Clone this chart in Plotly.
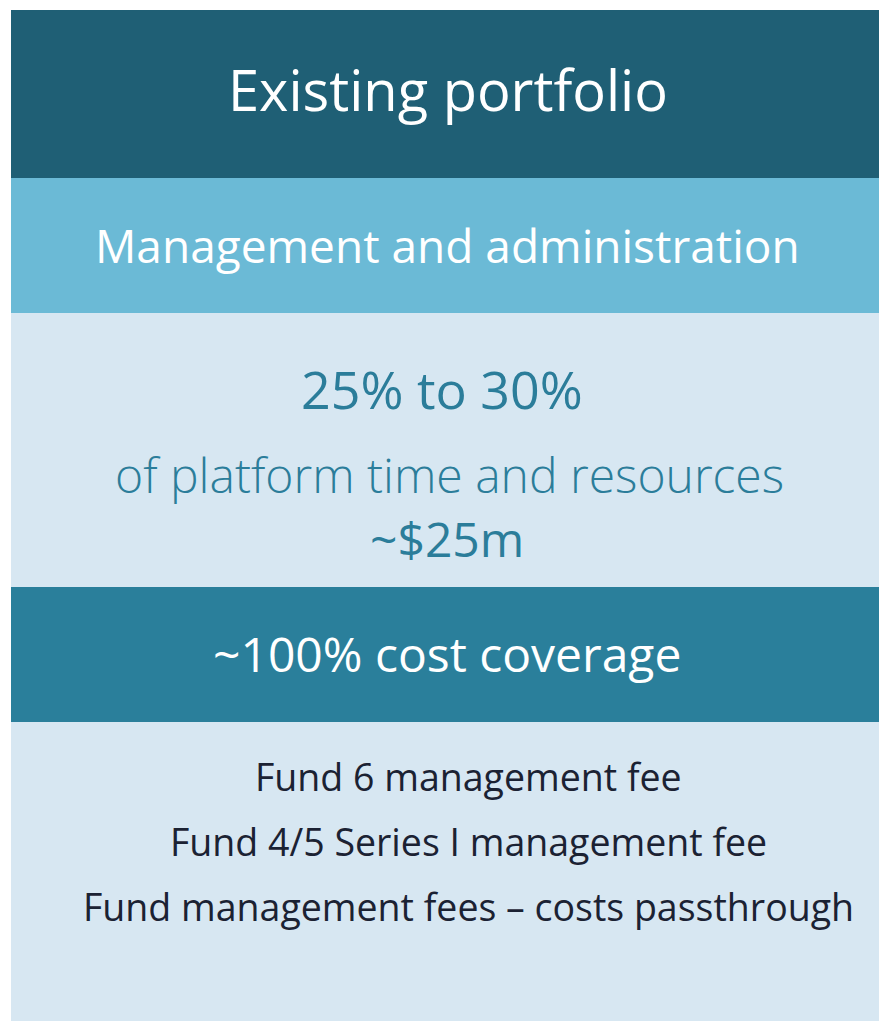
import plotly.graph_objects as go

W, H = 879, 1021

# Bands: (label, top, bottom, fill colour)
band_names = ["header", "subheader", "stats", "coverage", "sources"]
band_tops = [10, 178, 313, 587, 722]
band_bottoms = [178, 313, 587, 722, 1021]
band_colors = ["#1F5F75", "#6BBAD6", "#D7E7F2", "#2A7F9B", "#D7E7F2"]

# Text items
texts = ["Existing portfolio", "Management and administration", "25% to 30%",
         "of platform time and resources", "~$25m", "~100% cost coverage",
         "Fund 6 management fee", "Fund 4/5 Series I management fee",
         "Fund management fees \u2013 costs passthrough"]
text_x = [448, 447, 442, 449, 447, 447, 468, 468, 468]
text_y = [89, 245, 388, 474, 538, 653, 776, 841, 906]
text_size = [56, 46, 52, 48, 48, 48, 37.5, 37.5, 37.5]
text_color = ["#FFFFFF", "#FFFFFF", "#2B7D9A", "#2B7D9A", "#2B7D9A", "#FFFFFF",
              "#1B2233", "#1B2233", "#1B2233"]
text_weight = [400, 400, 400, 300, 400, 400, 400, 400, 400]

fig = go.Figure()
fig.add_trace(go.Scatter(x=[0, W], y=[0, H], mode="markers",
                         marker=dict(opacity=0), hoverinfo="skip", showlegend=False))

for t, b, c in zip(band_tops, band_bottoms, band_colors):
    fig.add_shape(type="rect", xref="x", yref="y", x0=11, x1=W, y0=t, y1=b,
                  fillcolor=c, line=dict(width=0), layer="below")

for s, x, y, sz, col, wt in zip(texts, text_x, text_y, text_size, text_color, text_weight):
    fig.add_annotation(x=x, y=y, xref="x", yref="y", text=s, showarrow=False,
                       xanchor="center", yanchor="middle",
                       font=dict(family="Open Sans", size=sz, color=col, weight=wt))

fig.update_xaxes(range=[0, W], visible=False, fixedrange=True)
fig.update_yaxes(range=[H, 0], visible=False, fixedrange=True)
fig.update_layout(width=W, height=H, margin=dict(l=0, r=0, t=0, b=0),
                  paper_bgcolor="white", plot_bgcolor="white")

fig.write_html("out.html", config={"displayModeBar": False},
               post_script="document.body.style.margin='0';document.body.style.overflow='hidden';")
